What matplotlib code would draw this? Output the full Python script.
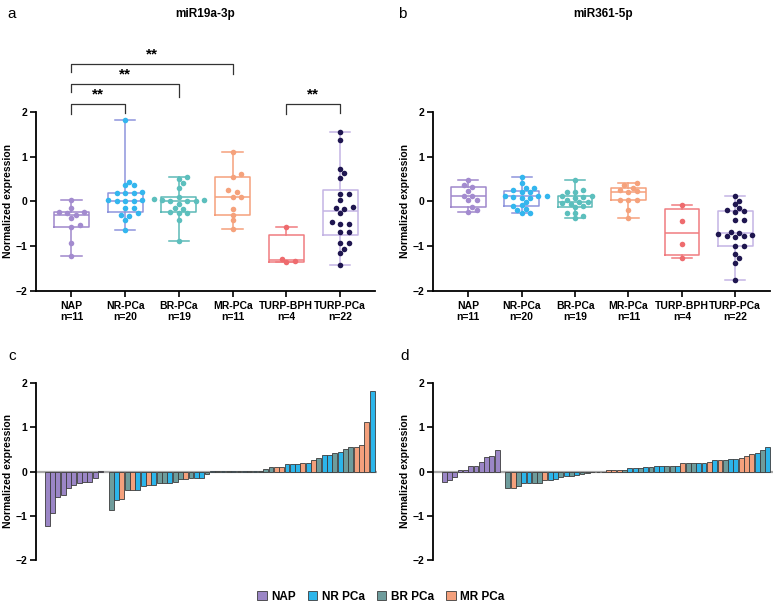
import numpy as np
import matplotlib.pyplot as plt
from matplotlib.patches import Patch

plt.rcParams['font.family'] = ['Liberation Sans', 'DejaVu Sans']

groups = ['NAP', 'NR-PCa', 'BR-PCa', 'MR-PCa', 'TURP-BPH', 'TURP-PCa']

# waterfall data (c: miR19a-3p, d: miR361-5p), sorted as in the figure
c_nap = [-1.23, -0.93, -0.58, -0.52, -0.37, -0.30, -0.27, -0.24, -0.24, -0.15, 0.02]
c_pca_grp = ['BR', 'NR', 'MR', 'BR', 'MR', 'NR', 'NR', 'MR', 'NR', 'BR', 'BR', 'NR', 'BR',
             'BR', 'MR', 'BR', 'NR', 'NR', 'BR',
             'NR', 'BR', 'NR', 'BR', 'NR', 'BR', 'NR', 'BR', 'NR', 'BR',
             'BR', 'BR', 'MR', 'MR', 'NR', 'NR', 'NR', 'MR', 'NR', 'MR', 'BR', 'NR', 'NR',
             'BR', 'NR', 'BR', 'BR', 'MR', 'MR', 'MR', 'NR']
c_pca_val = [-0.88, -0.64, -0.62, -0.42, -0.42, -0.42, -0.33, -0.30, -0.30, -0.27, -0.27, -0.27, -0.24,
             -0.18, -0.18, -0.15, -0.15, -0.15, -0.05,
             0.01, 0.01, 0.01, 0.01, 0.01, 0.01, 0.02, 0.02, 0.02, 0.02,
             0.05, 0.10, 0.10, 0.10, 0.18, 0.18, 0.18, 0.20, 0.20, 0.26, 0.30, 0.37, 0.37,
             0.41, 0.44, 0.50, 0.55, 0.55, 0.60, 1.11, 1.82]

d_nap = [-0.24, -0.20, -0.13, 0.04, 0.04, 0.13, 0.13, 0.22, 0.32, 0.36, 0.48]
d_pca_grp = ['BR', 'MR', 'BR', 'NR', 'NR', 'BR', 'BR', 'MR', 'NR', 'NR', 'BR', 'NR', 'BR',
             'NR', 'BR', 'BR', 'BR', 'NR', 'BR', 'MR', 'MR', 'MR', 'BR', 'NR', 'NR', 'BR',
             'NR', 'BR', 'NR', 'NR', 'BR', 'BR', 'NR', 'MR', 'BR', 'BR', 'NR', 'NR', 'MR',
             'NR', 'MR', 'BR', 'NR', 'NR', 'MR', 'MR', 'MR', 'NR', 'BR', 'NR']
d_pca_val = [-0.38, -0.37, -0.32, -0.26, -0.25, -0.25, -0.25, -0.19, -0.19, -0.16, -0.13, -0.10, -0.10,
             -0.08, -0.05, -0.04, -0.02, -0.01, -0.005, 0.04, 0.04, 0.04, 0.04, 0.07, 0.07, 0.07,
             0.10, 0.10, 0.13, 0.13, 0.13, 0.13, 0.13, 0.20, 0.20, 0.20, 0.20, 0.20, 0.22,
             0.25, 0.25, 0.25, 0.29, 0.29, 0.30, 0.36, 0.40, 0.42, 0.48, 0.55]

a_turp_bph = [-0.58, -1.28, -1.34, -1.36]
a_turp_pca = [1.55, 1.36, 0.72, 0.63, 0.52, 0.17, 0.17, 0.03, -0.12, -0.15, -0.17, -0.27,
              -0.45, -0.50, -0.50, -0.68, -0.68, -0.93, -0.93, -1.07, -1.15, -1.42]
b_turp_bph = [-0.09, -0.43, -0.96, -1.27]
b_turp_pca = [0.11, 0.00, -0.07, -0.15, -0.20, -0.22, -0.24, -0.42, -0.42, -0.68, -0.70,
              -0.73, -0.75, -0.78, -0.78, -0.80, -1.00, -1.00, -1.18, -1.26, -1.37, -1.75]


def pick(grp, val, key):
    return [v for g, v in zip(grp, val) if g == key]


a_data = [c_nap, pick(c_pca_grp, c_pca_val, 'NR'), pick(c_pca_grp, c_pca_val, 'BR'),
          pick(c_pca_grp, c_pca_val, 'MR'), a_turp_bph, a_turp_pca]
b_data = [d_nap, pick(d_pca_grp, d_pca_val, 'NR'), pick(d_pca_grp, d_pca_val, 'BR'),
          pick(d_pca_grp, d_pca_val, 'MR'), b_turp_bph, b_turp_pca]

pt_colors = ['#a38bcf', '#33b6ee', '#5cbfbd', '#f5a27c', '#ee6b6e', '#1f1650']
box_colors = ['#9f88cc', '#8e94dc', '#5cb9b7', '#f5a07c', '#f07c80', '#c4b4e4']
bar_colors = {'NAP': '#9b86c6', 'NR': '#2cb5ea', 'BR': '#6e9c9c', 'MR': '#f4a07c'}


def swarm(vals, sx, sy, diam, step):
    vals = np.asarray(vals)
    xs = np.zeros(len(vals))
    placed = []
    for i in np.argsort(vals):
        y = vals[i] * sy
        for k in range(60):
            off = ((k + 1) // 2) * step * (1 if k % 2 else -1)
            if all((off - px) ** 2 + (y - py) ** 2 >= diam ** 2 for px, py in placed):
                break
        placed.append((off, y))
        xs[i] = off / sx
    return xs


def box_panel(ax, data):
    stats = []
    for v in data:
        q1, med, q3 = np.percentile(v, [25, 50, 75], method='weibull')
        stats.append(dict(med=med, q1=q1, q3=q3, whislo=min(v), whishi=max(v), fliers=[]))
    art = ax.bxp(stats, positions=range(6), widths=0.65, capwidths=0.38,
                 showfliers=False, patch_artist=False)
    for i in range(6):
        c = box_colors[i]
        art['boxes'][i].set(color=c, lw=1.1)
        art['medians'][i].set(color=c, lw=1.1)
        for ln in art['whiskers'][2 * i:2 * i + 2] + art['caps'][2 * i:2 * i + 2]:
            ln.set(color=c, lw=1.1)
        xo = swarm(data[i], 53.4, 44.75, 5.0, 4.2)
        ax.scatter(i + xo, data[i], s=16, color=pt_colors[i], zorder=3, lw=0)
    ax.set_xlim(-0.66, 5.65)
    ax.set_ylim(-2, 3.6)
    ax.set_yticks([-2, -1, 0, 1, 2])
    ax.set_xticks(range(6))
    ax.set_xticklabels([f'{g}\nn={len(v)}' for g, v in zip(groups, data)],
                       fontsize=7.5, fontweight='bold', linespacing=1.1)
    for lab in ax.get_yticklabels():
        lab.set_fontweight('bold')
    ax.tick_params(labelsize=7.5, width=1.2, length=4)
    ax.tick_params(axis='y', pad=2.5)
    ax.spines['top'].set_visible(False)
    ax.spines['right'].set_visible(False)
    ax.spines['left'].set_bounds(-2, 2)
    ax.spines['left'].set_linewidth(1.3)
    ax.spines['bottom'].set_linewidth(1.3)
    ax.set_ylabel('Normalized expression', fontsize=7.5, fontweight='bold')
    ax.yaxis.set_label_coords(-0.068, 2 / 5.6)


def waterfall(ax, nap, grp, val, right):
    x_nap = np.arange(len(nap))
    x_pca = np.arange(len(val)) + len(nap) + 1
    ax.bar(x_nap, nap, width=0.92, color=bar_colors['NAP'], edgecolor='#3c3c3c', lw=0.6, zorder=2)
    ax.bar(x_pca, val, width=0.92, color=[bar_colors[g] for g in grp],
           edgecolor='#3c3c3c', lw=0.6, zorder=2)
    ax.axhline(0, color='#a8a8a8', lw=1.6, zorder=1)
    ax.set_xlim(-2.1, right)
    ax.set_ylim(-2, 2)
    ax.set_yticks([-2, -1, 0, 1, 2])
    ax.set_xticks([])
    for lab in ax.get_yticklabels():
        lab.set_fontweight('bold')
    ax.tick_params(labelsize=7.5, width=1.2, length=4, pad=2.5)
    for s in ['top', 'right', 'bottom']:
        ax.spines[s].set_visible(False)
    ax.spines['left'].set_linewidth(1.3)
    ax.set_ylabel('Normalized expression', fontsize=7.5, fontweight='bold')
    ax.yaxis.set_label_coords(-0.068, 0.5)


fig = plt.figure(figsize=(7.8, 6.07), dpi=100)
W, H = 780, 607

ax_a = fig.add_axes([36 / W, 316 / H, 339 / W, 251 / H])
box_panel(ax_a, a_data)
ax_b = fig.add_axes([433 / W, 316 / H, 337 / W, 251 / H])
box_panel(ax_b, b_data)

fig.text(205 / W, 1 - 14 / H, 'miR19a-3p', fontsize=8.5, fontweight='bold', ha='center', va='center')
fig.text(603 / W, 1 - 14 / H, 'miR361-5p', fontsize=8.5, fontweight='bold', ha='center', va='center')

# significance brackets on panel a
brackets = [(0, 1, 2.18, 1.95, 1.97), (0, 2, 2.62, 2.43, 2.32), (0, 3, 3.07, 2.88, 2.85),
            (4, 5, 2.18, 1.95, 1.97)]
for x1, x2, top, l1, l2 in brackets:
    ax_a.plot([x1, x1, x2, x2], [l1, top, top, l2], color='#333333', lw=0.9, clip_on=False)
    ax_a.text((x1 + x2) / 2, top + 0.05, '**', ha='center', va='bottom',
              fontsize=11, fontweight='bold')

ax_c = fig.add_axes([36 / W, 47 / H, 341 / W, 177 / H])
waterfall(ax_c, c_nap, c_pca_grp, c_pca_val, 61.9)
ax_d = fig.add_axes([433 / W, 47 / H, 340 / W, 177 / H])
waterfall(ax_d, d_nap, d_pca_grp, d_pca_val, 62.0)

for lbl, x, y in [('a', 12, 14), ('b', 402, 14), ('c', 12, 356), ('d', 405, 356)]:
    fig.text(x / W, 1 - y / H, lbl, fontsize=11, ha='center', va='center')

handles = [Patch(facecolor=bar_colors[k], edgecolor='#3c3c3c', lw=0.6) for k in ['NAP', 'NR', 'BR', 'MR']]
fig.legend(handles, ['NAP', 'NR PCa', 'BR PCa', 'MR PCa'], loc='center',
           bbox_to_anchor=(381 / W, 1 - 597 / H), ncol=4, frameon=False,
           prop={'weight': 'bold', 'size': 8.5}, handlelength=0.8, handleheight=0.8,
           handletextpad=0.4, columnspacing=1.0)

fig.savefig('out.png', dpi=100)
